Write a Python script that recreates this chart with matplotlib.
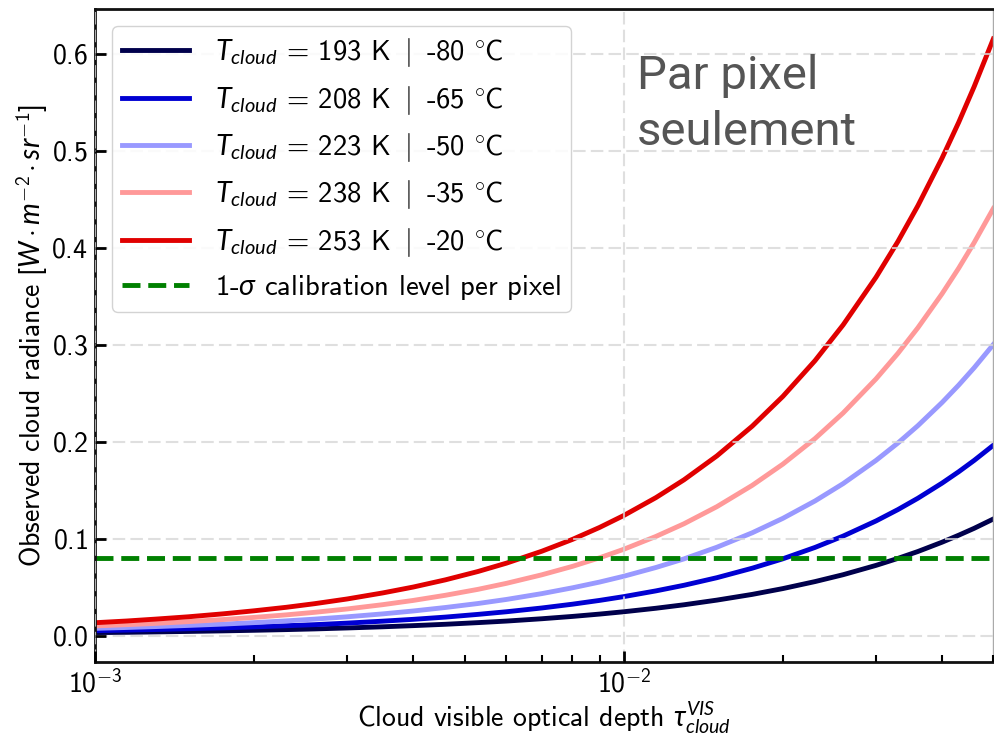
import matplotlib
matplotlib.use("Agg")
import math
import matplotlib.pyplot as plt
from matplotlib.ticker import FuncFormatter

plt.rcParams["font.family"] = ["cmss10", "DejaVu Sans"]
plt.rcParams["mathtext.fontset"] = "custom"
plt.rcParams["mathtext.rm"] = "cmss10"
plt.rcParams["mathtext.sf"] = "cmss10"
plt.rcParams["mathtext.it"] = "Lato:italic"
plt.rcParams["mathtext.fallback"] = "cm"
plt.rcParams["axes.formatter.use_mathtext"] = True

# Cloud visible optical depth samples
tau = [0.00100, 0.00115, 0.00130, 0.00150, 0.00175, 0.00200, 0.00230, 0.00260,
       0.00300, 0.00350, 0.00400, 0.00460, 0.00530, 0.00600, 0.00700, 0.00800,
       0.00900, 0.01000, 0.01150, 0.01300, 0.01500, 0.01750, 0.02000, 0.02300,
       0.02600, 0.03000, 0.03300, 0.03600, 0.04000, 0.04300, 0.04600, 0.05000]

# Observed cloud radiance [W m^-2 sr^-1] for each cloud-top temperature
rad_193K = [0.0031, 0.0034, 0.0038, 0.0043, 0.0049, 0.0055, 0.0062, 0.0069,
            0.0079, 0.0091, 0.0103, 0.0117, 0.0134, 0.0150, 0.0174, 0.0198,
            0.0222, 0.0246, 0.0282, 0.0318, 0.0366, 0.0425, 0.0485, 0.0557,
            0.0628, 0.0724, 0.0796, 0.0867, 0.0963, 0.1035, 0.1106, 0.1202]
rad_208K = [0.0051, 0.0057, 0.0063, 0.0071, 0.0080, 0.0090, 0.0102, 0.0113,
            0.0129, 0.0149, 0.0168, 0.0191, 0.0219, 0.0246, 0.0285, 0.0324,
            0.0363, 0.0402, 0.0461, 0.0519, 0.0597, 0.0695, 0.0792, 0.0909,
            0.1026, 0.1182, 0.1299, 0.1416, 0.1572, 0.1689, 0.1806, 0.1962]
rad_223K = [0.0075, 0.0084, 0.0093, 0.0105, 0.0119, 0.0134, 0.0152, 0.0170,
            0.0194, 0.0224, 0.0254, 0.0290, 0.0331, 0.0373, 0.0433, 0.0493,
            0.0552, 0.0612, 0.0702, 0.0791, 0.0911, 0.1060, 0.1209, 0.1388,
            0.1567, 0.1806, 0.1985, 0.2164, 0.2403, 0.2582, 0.2761, 0.3000]
rad_238K = [0.0100, 0.0113, 0.0126, 0.0144, 0.0166, 0.0188, 0.0214, 0.0240,
            0.0275, 0.0319, 0.0363, 0.0416, 0.0477, 0.0539, 0.0627, 0.0714,
            0.0802, 0.0890, 0.1022, 0.1153, 0.1329, 0.1549, 0.1768, 0.2031,
            0.2295, 0.2646, 0.2909, 0.3173, 0.3524, 0.3787, 0.4051, 0.4402]
rad_253K = [0.0133, 0.0151, 0.0170, 0.0194, 0.0225, 0.0256, 0.0292, 0.0329,
            0.0378, 0.0440, 0.0501, 0.0575, 0.0661, 0.0747, 0.0870, 0.0992,
            0.1115, 0.1238, 0.1422, 0.1606, 0.1852, 0.2159, 0.2466, 0.2834,
            0.3203, 0.3694, 0.4062, 0.4431, 0.4922, 0.5290, 0.5659, 0.6150]

temps_K = [193, 208, 223, 238, 253]
temps_C = [-80, -65, -50, -35, -20]
colors = ["#00004c", "#0000d2", "#9999ff", "#ff9999", "#e00000"]
series = [rad_193K, rad_208K, rad_223K, rad_238K, rad_253K]

calib_level = 0.08  # 1-sigma calibration level per pixel

fig = plt.figure(figsize=(9.94, 7.39), dpi=100)
ax = fig.add_axes([95 / 994, 1 - 662.3 / 739, (993.3 - 95) / 994, (662.3 - 9.3) / 739])

for vals, tk, tc, col in zip(series, temps_K, temps_C, colors):
    ax.plot(tau, vals, color=col, lw=3.5, zorder=2,
            label=r"$T_{cloud}$ = %d K $\mid$ %d $^{\circ}$C" % (tk, tc))

ax.axhline(calib_level, color="green", ls="--", lw=3.5, zorder=2,
           label=r"1-$\sigma$ calibration level per pixel")

ax.set_xscale("log")
ax.set_xlim(tau[0], tau[-1])
ax.margins(y=0.05)
ax.xaxis.set_major_formatter(
    FuncFormatter(lambda v, pos: r"$10^{%d}$" % round(math.log10(v))))

ax.grid(True, which="major", color="#d8d8d8", ls=(0, (6, 2.5)), lw=1.5, alpha=0.8, zorder=3)
ax.set_axisbelow(False)

for side in ["left", "bottom", "top"]:
    ax.spines[side].set_linewidth(2)
    ax.spines[side].set_color("#111111")
ax.spines["right"].set_color("#aaaaaa")
ax.spines["right"].set_linewidth(1)

ax.tick_params(axis="both", which="major", direction="in", length=8, width=2,
               labelsize=20, pad=5)
ax.tick_params(axis="x", which="minor", direction="in", length=5, width=1.5)
ax.tick_params(axis="y", which="minor", left=False)

ax.set_xlabel(r"Cloud visible optical depth $\tau_{cloud}^{VIS}$", fontsize=20, labelpad=1)
ax.set_ylabel(r"Observed cloud radiance [$W \cdot m^{-2} \cdot sr^{-1}$]", fontsize=20, labelpad=1)

leg = ax.legend(loc="upper left", fontsize=20.6, handlelength=2.35, handletextpad=0.9,
                labelspacing=0.5, borderaxespad=0.6, borderpad=0.35, fancybox=True,
                framealpha=0.85, edgecolor="#cccccc")
leg.set_zorder(5)

fig.text(637 / 994, 1 - 89.3 / 739, "Par pixel", family="Roboto", fontsize=34,
         color="#555555", va="baseline", ha="left")
fig.text(637 / 994, 1 - 145 / 739, "seulement", family="Roboto", fontsize=34,
         color="#555555", va="baseline", ha="left")

fig.savefig("out.png", dpi=100)
